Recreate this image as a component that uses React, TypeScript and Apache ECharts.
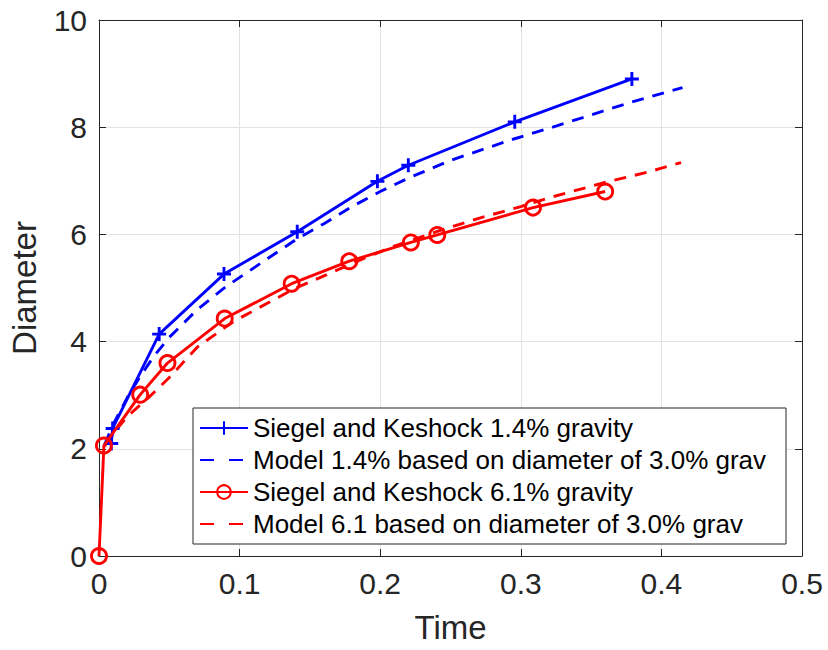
import React, { useEffect, useRef } from "react";
import * as echarts from "echarts";

const blueDataT = [0.0087, 0.0097, 0.0428, 0.0889, 0.141, 0.198, 0.22, 0.2957, 0.379];
const blueDataD = [2.1, 2.38, 4.14, 5.26, 6.05, 6.99, 7.29, 8.1, 8.9];

const blueModelT = [0.004, 0.01, 0.02, 0.03, 0.04, 0.05, 0.07, 0.09, 0.12, 0.141, 0.16, 0.18, 0.2, 0.22, 0.25, 0.295, 0.32, 0.35, 0.379, 0.415];
const blueModelD = [2.08, 2.45, 2.95, 3.38, 3.76, 4.08, 4.6, 5.02, 5.55, 5.92, 6.2, 6.52, 6.8, 7.05, 7.38, 7.78, 7.98, 8.23, 8.47, 8.74];

const redDataT = [0, 0.0035, 0.0293, 0.0487, 0.0894, 0.137, 0.178, 0.2218, 0.2406, 0.3087, 0.36];
const redDataD = [0, 2.06, 3.01, 3.6, 4.43, 5.08, 5.5, 5.85, 5.99, 6.5, 6.8];

const redModelT = [0.004, 0.01, 0.02, 0.035, 0.05, 0.07, 0.096, 0.12, 0.14, 0.162, 0.19, 0.21, 0.24, 0.27, 0.3, 0.321, 0.3614, 0.39, 0.414];
const redModelD = [2.05, 2.28, 2.6, 2.95, 3.33, 3.9, 4.38, 4.72, 5.0, 5.25, 5.57, 5.78, 6.05, 6.3, 6.52, 6.69, 6.98, 7.16, 7.34];

const xTicks = [0, 0.1, 0.2, 0.3, 0.4, 0.5];
const yTicks = [0, 2, 4, 6, 8, 10];

const seriesNames = [
  "Siegel and Keshock 1.4% gravity",
  "Model 1.4% based on diameter of 3.0% grav",
  "Siegel and Keshock 6.1% gravity",
  "Model 6.1 based on diameter of 3.0% grav",
];

const zip = (a: number[], b: number[]) => a.map((v, i) => [v, b[i]]);

const FONT = "'Liberation Sans', Arial, Helvetica, sans-serif";
const AX = "#262626";
const LW = 2.9;

export default function App() {
  const ref = useRef<HTMLDivElement>(null);
  useEffect(() => {
    if (!ref.current) return;
    const chart = echarts.init(ref.current, undefined, { renderer: "svg" });
    const commonAxis = {
      axisLine: { show: true, onZero: false, lineStyle: { color: AX, width: 1 } },
      axisTick: { show: true, inside: true, length: 7, lineStyle: { color: AX } },
    };
    chart.setOption({
      animation: false,
      backgroundColor: "#fff",
      textStyle: { fontFamily: FONT },
      grid: { left: 98, right: 26, top: 20, bottom: 94, containLabel: false },
      xAxis: [
        {
          type: "value",
          min: xTicks[0],
          max: xTicks[xTicks.length - 1],
          interval: 0.1,
          position: "bottom",
          ...commonAxis,
          splitLine: { show: true, lineStyle: { color: "#e3e3e3", width: 1 } },
          axisLabel: {
            fontSize: 30,
            color: AX,
            margin: 12,
            fontFamily: FONT,
            formatter: (v: number) => String(Math.round(v * 10) / 10),
          },
          name: "Time",
          nameLocation: "middle",
          nameGap: 55,
          nameTextStyle: { fontSize: 33, color: AX, fontFamily: FONT },
        },
        {
          type: "value",
          min: xTicks[0],
          max: xTicks[xTicks.length - 1],
          interval: 0.1,
          position: "top",
          ...commonAxis,
          splitLine: { show: false },
          axisLabel: { show: false },
        },
      ],
      yAxis: [
        {
          type: "value",
          min: yTicks[0],
          max: yTicks[yTicks.length - 1],
          interval: 2,
          position: "left",
          ...commonAxis,
          splitLine: { show: true, lineStyle: { color: "#e3e3e3", width: 1 } },
          axisLabel: { fontSize: 30, color: AX, margin: 12, fontFamily: FONT },
          name: "Diameter",
          nameLocation: "middle",
          nameGap: 58,
          nameTextStyle: { fontSize: 33, color: AX, fontFamily: FONT },
        },
        {
          type: "value",
          min: yTicks[0],
          max: yTicks[yTicks.length - 1],
          interval: 2,
          position: "right",
          ...commonAxis,
          splitLine: { show: false },
          axisLabel: { show: false },
        },
      ],
      legend: {
        orient: "vertical",
        left: 193,
        top: 408,
        padding: [4, 10, 4, 6],
        itemGap: 0,
        itemWidth: 48,
        itemHeight: 17,
        backgroundColor: "#fff",
        borderColor: AX,
        borderWidth: 1,
        borderRadius: 0,
        textStyle: { fontSize: 26, color: "#000", lineHeight: 32, width: 523, fontFamily: FONT },
        data: [
          { name: seriesNames[0] },
          { name: seriesNames[1], itemStyle: { opacity: 0 }, lineStyle: { type: [14, 15] } },
          { name: seriesNames[2] },
          { name: seriesNames[3], itemStyle: { opacity: 0 }, lineStyle: { type: [14, 15] } },
        ],
      },
      series: [
        {
          name: seriesNames[0],
          type: "line",
          data: zip(blueDataT, blueDataD),
          color: "#0000ff",
          lineStyle: { color: "#0000ff", width: LW, type: "solid" },
          symbol: "path://M5,0 L5,10 M0,5 L10,5",
          symbolSize: 14,
          itemStyle: { color: "#0000ff", borderColor: "#0000ff", borderWidth: LW },
          z: 3,
        },
        {
          name: seriesNames[1],
          type: "line",
          data: zip(blueModelT, blueModelD),
          color: "#0000ff",
          lineStyle: { color: "#0000ff", width: LW, type: [12, 9] },
          symbol: "none",
          showSymbol: false,
          itemStyle: { color: "rgba(0,0,0,0)", borderWidth: 0 },
          z: 2,
        },
        {
          name: seriesNames[2],
          type: "line",
          data: zip(redDataT, redDataD),
          color: "#ff0000",
          lineStyle: { color: "#ff0000", width: LW, type: "solid" },
          symbol: "circle",
          symbolSize: 15,
          itemStyle: { color: "rgba(0,0,0,0)", borderColor: "#ff0000", borderWidth: LW },
          z: 4,
        },
        {
          name: seriesNames[3],
          type: "line",
          data: zip(redModelT, redModelD),
          color: "#ff0000",
          lineStyle: { color: "#ff0000", width: LW, type: [12, 9] },
          symbol: "none",
          showSymbol: false,
          itemStyle: { color: "rgba(0,0,0,0)", borderWidth: 0 },
          z: 2,
        },
      ],
    });
    return () => chart.dispose();
  }, []);
  return (
    <div
      ref={ref}
      style={{ position: "fixed", left: 0, top: 0, width: 828, height: 650, background: "#fff" }}
    />
  );
}
